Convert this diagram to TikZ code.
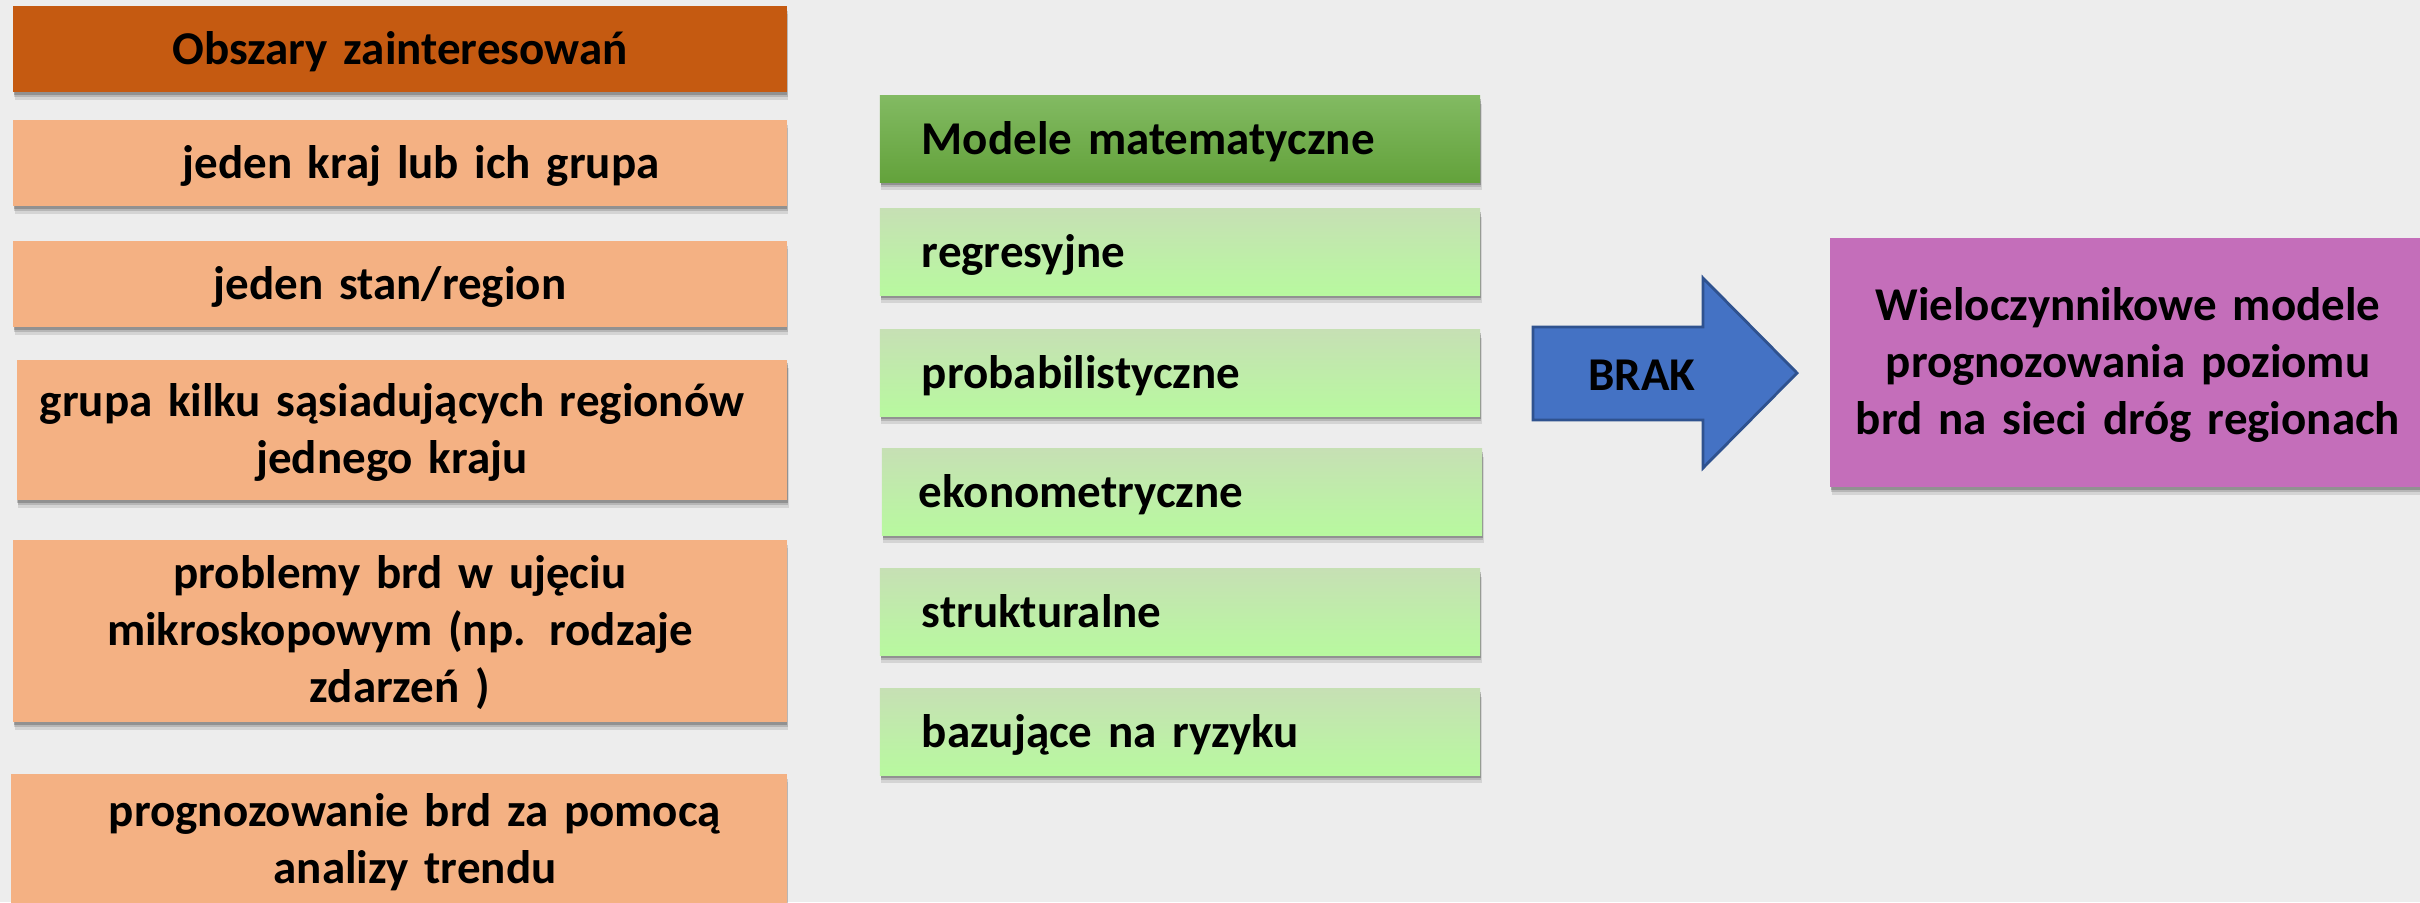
\documentclass[tikz,border=0pt]{standalone}
\usepackage{fontspec}
\setmainfont{Carlito}
\usetikzlibrary{shadows}
\definecolor{bgc}{HTML}{EDEDED}
\definecolor{hdrorange}{HTML}{C55A11}
\definecolor{lorange}{HTML}{F4B183}
\definecolor{gtop}{HTML}{82BA62}
\definecolor{gbot}{HTML}{63A23B}
\definecolor{lgtop}{HTML}{C6E0B4}
\definecolor{lgbot}{HTML}{B8F99F}
\definecolor{arrblue}{HTML}{4472C4}
\definecolor{arredge}{HTML}{2F528F}
\definecolor{purp}{HTML}{C46EBA}
\begin{document}
\begin{tikzpicture}[x=0.01cm,y=-0.01cm,
  txt/.style={font=\bfseries\fontsize{13.37}{16.2}\selectfont, text=black},
  shadowed/.style={
    general shadow={fill=black, opacity=0.10, shadow xshift=0.4pt, shadow yshift=-2.2pt},
    general shadow={fill=black, opacity=0.14, shadow xshift=0.3pt, shadow yshift=-1.5pt},
    general shadow={fill=black, opacity=0.20, shadow xshift=0.2pt, shadow yshift=-0.8pt}},
  box/.style={txt, shadowed, rectangle, inner xsep=0pt, inner ysep=0pt,
    text height=0.45cm, text depth=0.15cm, align=center},
  twolines/.style={text depth=0.72cm},
  threelines/.style={text depth=1.29cm},
  lbox/.style={box, fill=lorange, minimum width=7.73cm, text width=7.6cm},
  hbox/.style={box, fill=hdrorange, minimum width=7.73cm, text width=7.6cm, minimum height=0.86cm},
  mhead/.style={box, top color=gtop, bottom color=gbot, minimum width=6cm, minimum height=0.86cm, text width=5.16cm, align=left},
  mbox/.style={box, top color=lgtop, bottom color=lgbot, minimum width=6cm, minimum height=0.86cm, text width=5.16cm, align=left},
  pbox/.style={box, fill=purp, minimum width=5.95cm, minimum height=2.49cm, text width=5.8cm}
]
\fill[bgc] (0,0) rectangle (2420,902);
\useasboundingbox (0,0) rectangle (2420,902);

% left column
\node[hbox] (h0) at (400,49) {Obszary zainteresowań};
\node[lbox, minimum height=0.86cm] (b1) at (400,163) {\hspace*{0.42cm}jeden kraj lub ich grupa};
\node[lbox, minimum height=0.86cm] (b2) at (400,284) {\hspace*{-0.2cm}jeden stan/region};
\node[lbox, twolines, minimum width=7.70cm, minimum height=1.40cm] (b3) at (402,430) {\hspace*{-0.2cm}grupa kilku sąsiadujących regionów\\\hspace*{-0.2cm}jednego kraju};
\node[lbox, threelines, minimum height=1.82cm] (b4) at (400,631) {problemy brd w ujęciu\\mikroskopowym (np. rodzaje\\zdarzeń )};
\node[lbox, twolines, minimum width=7.75cm, minimum height=1.32cm] (b5) at (399,840) {\hspace*{0.32cm}prognozowanie brd za pomocą\\\hspace*{0.32cm}analizy trendu};

% middle column
\node[mhead] (m0) at (1180,139) {Modele matematyczne};
\node[mbox] (m1) at (1180,252) {regresyjne};
\node[mbox] (m2) at (1180,373) {probabilistyczne};
\node[mbox] (m3) at (1182,492) {\hspace*{-0.05cm}ekonometryczne};
\node[mbox] (m4) at (1180,612) {strukturalne};
\node[mbox] (m5) at (1180,732) {bazujące na ryzyku};

% arrow
\path[fill=arrblue, draw=arredge, line width=0.8pt, line join=miter]
  (1533,327) -- (1703,327) -- (1703,278) -- (1797,373) -- (1703,468) -- (1703,420) -- (1533,420) -- cycle;
\node[txt] (brak) at (1642,375) {BRAK};

% result
\node[pbox, threelines] (res) at (2128,362.5) {Wieloczynnikowe modele\\prognozowania poziomu\\brd na sieci dróg regionach};
\end{tikzpicture}
\end{document}
